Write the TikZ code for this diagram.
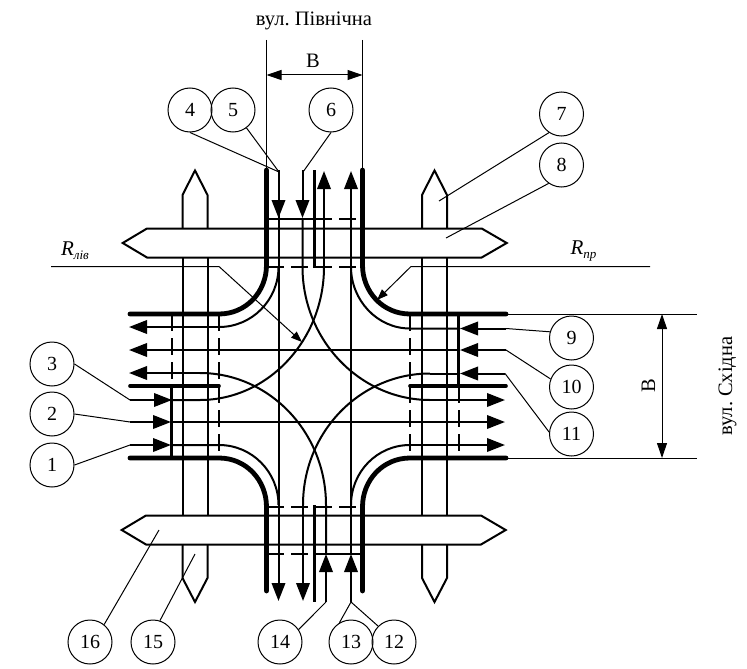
\documentclass[tikz,border=0pt]{standalone}
\usepackage{fontspec}
\setmainfont{Liberation Serif}
\usetikzlibrary{arrows.meta}
\frenchspacing
\newcommand{\rlabel}[1]{\fontsize{21}{22}\selectfont\textit{R}\raisebox{-4pt}{\fontsize{13}{14}\selectfont\textit{#1}}}
\tikzset{
  thinline/.style={line width=1pt,black},
  laneline/.style={line width=2pt,black},
  stripline/.style={line width=2pt,black,line join=miter},
  kerb/.style={line width=4.8pt,black,line cap=round},
  midkerb/.style={line width=3.6pt,black,line cap=butt},
  stopline/.style={line width=2.6pt,black},
  dashline/.style={line width=2pt,black,dash pattern=on 17pt off 7pt},
  tip/.style={-{Triangle[length=18pt,width=13.5pt]}},
  dimtip/.style={{Triangle[length=15pt,width=10pt]}-{Triangle[length=15pt,width=10pt]},line width=1pt},
  leadtip/.style={-{Triangle[length=11pt,width=8pt]},line width=1pt},
  callout/.style={circle,draw,line width=1pt,minimum size=44pt,inner sep=0pt,font=\fontsize{20}{22}\selectfont},
  caption/.style={inner sep=0pt,font=\fontsize{20.5}{22}\selectfont},
}
\begin{document}
\begin{tikzpicture}[x=1pt,y=-1pt]
\useasboundingbox (0,0) rectangle (747,669);
% pedestrian strips
\draw[stripline] (147,228.5) -- (122.7,243) -- (147,257.5) -- (481.7,257.5) -- (506.7,243) -- (481.7,228.5) -- cycle;
\draw[stripline] (146,515.5) -- (121.7,530) -- (146,544.5) -- (481,544.5) -- (505.7,530) -- (481,515.5) -- cycle;
\foreach \xa/\xb in {182.5/207.5,422/447}{
  \pgfmathsetmacro{\xm}{(\xa+\xb)/2}
  \draw[stripline] (\xa,228.5) -- (\xa,195) -- (\xm,170.5) -- (\xb,195) -- (\xb,228.5);
  \draw[stripline] (\xa,257.5) -- (\xa,515.5);
  \draw[stripline] (\xb,257.5) -- (\xb,515.5);
  \draw[stripline] (\xa,544.5) -- (\xa,578) -- (\xm,602) -- (\xb,578) -- (\xb,544.5);
}
% kerbs
\draw[kerb] (266.5,170) -- (266.5,265) .. controls (266.5,292) and (246,314) .. (219,314) -- (130,314);
\draw[kerb] (362.5,170) -- (362.5,265) .. controls (362.5,292) and (383,314) .. (410,314) -- (506,314);
\draw[kerb] (130,458) -- (219,458) .. controls (246,458) and (266.5,480) .. (266.5,507) -- (266.5,591);
\draw[kerb] (506,458) -- (410,458) .. controls (383,458) and (362.5,480) .. (362.5,507) -- (362.5,591);
% centre lines and stop lines
\draw[midkerb] (314.5,170) -- (314.5,268);
\draw[midkerb] (314.5,505) -- (314.5,602);
\draw[midkerb,line cap=round] (130,386) -- (219,386);
\draw[midkerb,line cap=round] (410,386) -- (506,386);
\draw[stopline] (267,219) -- (315,219);
\draw[stopline] (315,554) -- (362,554);
\draw[midkerb] (171.5,386) -- (171.5,458);
\draw[midkerb] (458.5,314) -- (458.5,386);
% dashed lines
\draw[dashline] (315,219) -- (362,219);
\draw[dashline] (267,267) -- (362,267);
\draw[dashline] (267,507) -- (362,507);
\draw[dashline] (267,554) -- (315,554);
\draw[dashline] (219,314) -- (219,458);
\draw[dashline] (410,314) -- (410,458);
\draw[dashline] (171.5,314) -- (171.5,386);
\draw[dashline] (458.5,386) -- (458.5,458);
% lanes: straight
\draw[laneline] (278.5,170) -- (278.5,585);
\draw[laneline,tip] (278.5,170) -- (278.5,218);
\draw[laneline,tip] (278.5,560) -- (278.5,601);
\draw[laneline,tip] (351,602) -- (351,554);
\draw[laneline,tip] (351,554) -- (351,171);
\draw[laneline,tip] (302.5,170) -- (302.5,218);
\draw[laneline] (302.5,218) -- (302.5,267) .. controls (302.5,340) and (360,400) .. (430,400);
\draw[laneline,tip] (430,400) -- (505,400);
\draw[laneline,tip] (324,267) -- (324,171);
\draw[laneline] (324,267) .. controls (324,340) and (268,400) .. (200,400) -- (172,400);
\draw[laneline,tip] (130,400) -- (172,400);
\draw[laneline,tip] (326,602) -- (326,554);
\draw[laneline] (326,554) -- (326,505) .. controls (326,432) and (269,373) .. (200,373);
\draw[laneline,tip] (200,373) -- (129,373);
\draw[laneline,tip] (303,505) -- (303,601);
\draw[laneline] (303,505) .. controls (303,432) and (360,373.5) .. (430,373.5);
\draw[laneline,tip] (505,373.5) -- (460,373.5);
\draw[laneline] (460,373.5) -- (430,373.5);
% lanes: right turns
\draw[laneline] (278.5,267) .. controls (278.5,300) and (252,327) .. (219,327);
\draw[laneline,tip] (219,327) -- (129,327);
\draw[laneline] (351,267) .. controls (351,300) and (377,328.5) .. (410,328.5) -- (460,328.5);
\draw[laneline,tip] (506,328.5) -- (460,328.5);
\draw[laneline] (278.5,505) .. controls (278.5,472) and (252,445) .. (219,445) -- (172,445);
\draw[laneline,tip] (130,445) -- (171,445);
\draw[laneline] (351,505) .. controls (351,472) and (377,445) .. (410,445);
\draw[laneline,tip] (410,445) -- (505,445);
% lanes: cross
\draw[laneline,tip] (506,350) -- (460,350);
\draw[laneline,tip] (460,350) -- (129,350);
\draw[laneline,tip] (130,422) -- (171,422);
\draw[laneline,tip] (171,422) -- (505,422);
% callouts
\node[callout] (n4) at (190,110) {4};
\node[callout] (n5) at (233,110) {5};
\node[callout] (n6) at (331,110) {6};
\node[callout] (n7) at (561.5,114) {7};
\node[callout] (n8) at (561.5,165) {8};
\node[callout] (n9) at (571.5,338) {9};
\node[callout] (n10) at (571.5,387) {10};
\node[callout] (n11) at (571.5,434) {11};
\node[callout] (n3) at (52,364) {3};
\node[callout] (n2) at (52,414) {2};
\node[callout] (n1) at (52,465) {1};
\node[callout] (n16) at (90,642) {16};
\node[callout] (n15) at (153,642) {15};
\node[callout] (n14) at (280,642) {14};
\node[callout] (n13) at (351,642) {13};
\node[callout] (n12) at (394,642) {12};
\coordinate (a4) at (279,172);
\coordinate (a6) at (303,172);
\coordinate (a7) at (439,201);
\coordinate (a8) at (446,238);
\coordinate (a9) at (506,328.5);
\coordinate (a10) at (506,350);
\coordinate (a11) at (505,373.5);
\coordinate (a3) at (130,400);
\coordinate (a2) at (130,422);
\coordinate (a1) at (130,445);
\coordinate (a16) at (159,530);
\coordinate (a15) at (195,554);
\coordinate (a14) at (326,602);
\coordinate (a13) at (351,602);
\draw[thinline] (n4.south) -- (a4);
\draw[thinline] (n5.-53) -- (a4);
\draw[thinline] (n6.south) -- (a6);
\draw[thinline] (n7.-124) -- (a7);
\draw[thinline] (n8.-125) -- (a8);
\draw[thinline] (n9.164) -- (a9);
\draw[thinline] (n10.159) -- (a10);
\draw[thinline] (n11.175) -- (a11);
\draw[thinline] (n3.east) -- (a3);
\draw[thinline] (n2.east) -- (a2);
\draw[thinline] (n1.east) -- (a1);
\draw[thinline] (n16.51) -- (a16);
\draw[thinline] (n15.72) -- (a15);
\draw[thinline] (n14.34) -- (a14);
\draw[thinline] (n13.121) -- (a13);
\draw[thinline] (n12.135) -- (a13);
% radius leaders
\coordinate (rl0) at (51,266.5);
\coordinate (rl1) at (219,266.5);
\coordinate (rl2) at (302,342);
\coordinate (rr0) at (650,266.5);
\coordinate (rr1) at (411,266.5);
\coordinate (rr2) at (377,300);
\draw[leadtip] (rl0) -- (rl1) -- (rl2);
\draw[leadtip] (rr0) -- (rr1) -- (rr2);
\node[inner sep=0pt] (rlab) at (75,251) {\rlabel{лів}};
\node[inner sep=0pt] (rrab) at (583.5,251) {\rlabel{пр}};
% dimensions
\coordinate (d1) at (266.5,40);
\coordinate (d2) at (362.5,40);
\coordinate (d1b) at (266.5,170);
\coordinate (d2b) at (362.5,170);
\draw[thinline] (d1) -- (d1b);
\draw[thinline] (d2) -- (d2b);
\draw[dimtip] (266.5,75) -- (362.5,75);
\coordinate (e1) at (506,314);
\coordinate (e2) at (506,458);
\coordinate (e1b) at (697,314);
\coordinate (e2b) at (697,458);
\draw[thinline] (e1) -- (e1b);
\draw[thinline] (e2) -- (e2b);
\draw[dimtip] (662,314) -- (662,458);
\node[caption] (tnorth) at (314,21) {вул. Північна};
\node[caption] (teast) at (727.5,386) [rotate=90] {вул. Східна};
\node[caption] (dimtop) at (313,61) {В};
\node[caption] (dimright) at (648.5,386) [rotate=90] {В};
\end{tikzpicture}
\end{document}
